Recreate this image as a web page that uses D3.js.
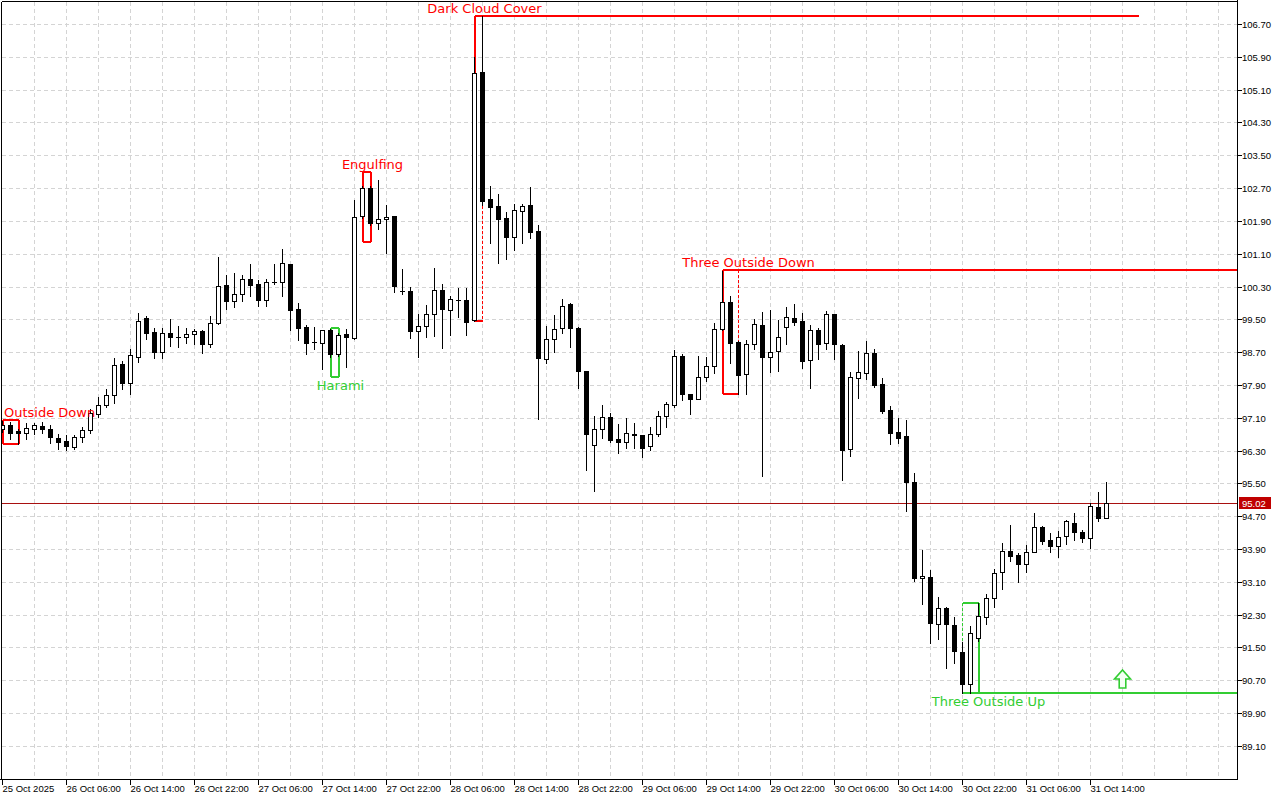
<!DOCTYPE html>
<html><head><meta charset="utf-8">
<script src="https://cdn.jsdelivr.net/npm/d3@7"></script>
<style>
html,body{margin:0;padding:0;background:#fff;}
svg{display:block;}
</style></head><body>
<svg id="chart" width="1280" height="800"></svg>
<script>
// ---------- DATA ----------
const opens = [96.83,96.92,96.78,96.73,96.83,96.90,96.83,96.61,96.53,96.39,96.63,96.80,97.19,97.41,97.66,98.41,97.95,98.58,99.53,99.19,
98.70,99.17,99.07,99.07,99.14,99.22,98.90,99.41,100.34,99.95,100.12,100.48,100.36,99.97,100.41,100.41,100.85,99.75,99.31,98.95,
98.92,99.24,98.65,99.14,99.04,102.02,102.70,101.85,101.95,102.02,100.19,100.19,99.22,99.34,99.63,100.21,99.73,99.97,99.97,99.48,
105.53,102.43,102.26,101.97,101.51,102.14,102.29,101.65,98.53,99.02,99.29,99.87,99.29,98.24,96.44,96.83,97.12,96.58,96.51,96.70,
96.68,96.41,96.70,97.14,97.41,98.61,97.68,97.56,98.09,98.36,99.26,99.92,98.95,98.17,98.90,99.36,98.58,98.73,99.31,99.53,
99.46,98.51,99.24,98.92,99.63,98.87,96.34,98.07,98.19,98.68,97.92,97.29,96.75,96.66,95.53,93.19,93.22,92.07,92.46,92.05,
91.39,90.61,91.73,92.24,92.71,93.34,93.85,93.75,93.53,93.83,94.44,94.12,93.97,94.22,94.53,94.32,94.17,94.92,94.66];
const highs = [97.02,97.00,96.83,96.97,96.97,96.99,96.92,96.70,96.68,96.68,96.88,97.31,97.61,97.80,98.56,98.48,98.78,99.65,99.58,99.29,
99.29,99.51,99.34,99.29,99.26,99.23,99.58,101.02,100.58,100.63,100.58,100.85,100.46,100.48,100.85,101.22,100.86,99.90,99.36,99.31,
99.25,99.26,99.17,99.26,102.41,102.75,102.75,102.90,102.29,102.03,100.73,100.29,99.63,99.85,100.75,100.36,100.07,100.26,100.26,105.89,
106.90,102.75,102.55,102.12,102.31,102.31,102.73,101.80,99.34,99.61,99.99,99.90,99.31,98.25,97.14,97.41,97.22,96.95,97.10,96.97,
96.69,96.87,97.27,97.48,98.75,98.65,97.69,98.61,98.58,99.41,100.68,100.07,98.96,98.99,99.51,99.68,99.73,99.48,99.80,99.87,
99.65,99.36,99.29,99.70,99.64,98.90,98.22,98.73,98.97,98.78,98.07,97.39,97.10,97.05,95.75,93.88,93.39,92.73,92.49,92.24,
91.63,92.02,92.58,92.80,93.41,94.05,94.49,93.80,94.00,94.78,94.45,94.29,94.34,94.61,94.78,94.36,95.02,95.29,95.53];
const lows = [96.75,96.58,96.46,96.58,96.70,96.73,96.48,96.34,96.31,96.34,96.51,96.73,97.12,97.36,97.46,97.80,97.68,98.46,99.02,98.56,
98.56,98.85,98.83,98.92,98.90,98.68,98.83,99.39,99.75,99.80,99.95,100.07,99.82,99.82,100.36,100.07,99.24,98.99,98.65,98.78,
98.29,98.58,98.61,98.34,99.03,101.97,101.80,101.70,101.12,100.17,100.12,99.04,98.58,99.07,99.09,98.80,99.12,99.56,99.12,99.46,
102.29,101.36,100.87,100.97,101.19,101.36,101.48,97.07,98.43,98.70,99.17,98.83,97.83,95.83,95.32,96.61,96.51,96.24,96.36,96.36,
96.14,96.31,96.66,96.87,97.36,97.53,97.19,97.55,97.99,98.19,99.24,98.43,97.68,97.68,98.78,95.68,98.22,98.24,98.90,99.36,
98.31,97.83,98.53,98.78,98.53,95.58,96.17,97.58,98.04,97.85,97.22,96.46,96.49,94.83,93.12,92.56,91.61,91.71,91.00,91.12,
90.39,90.39,91.66,92.07,92.49,92.92,93.61,93.09,93.34,93.82,94.02,93.83,93.71,94.02,94.12,94.07,93.92,94.58,94.65];
const closes = [96.92,96.73,96.73,96.85,96.92,96.83,96.63,96.51,96.41,96.63,96.80,97.22,97.41,97.66,98.39,97.95,98.63,99.46,99.17,98.70,
99.17,99.07,99.06,99.14,99.22,98.90,99.41,100.31,99.95,100.12,100.48,100.34,99.97,100.41,100.40,100.87,99.73,99.29,98.92,98.94,
99.24,98.65,99.12,99.07,101.99,102.70,101.85,101.95,101.99,100.31,100.18,99.22,99.34,99.63,100.21,99.75,99.99,99.96,99.43,105.50,
102.38,102.24,101.95,101.51,102.17,102.26,101.63,98.56,99.02,99.26,99.82,99.29,98.24,96.70,96.83,97.12,96.56,96.51,96.73,96.69,
96.36,96.70,97.14,97.44,98.61,97.68,97.56,98.09,98.36,99.26,99.92,98.92,98.14,98.90,99.39,98.58,98.70,99.07,99.56,99.43,
98.48,99.24,98.90,99.63,98.90,96.31,98.09,98.22,98.68,97.90,97.27,96.73,96.61,95.53,93.19,93.24,92.10,92.46,92.07,91.41,
90.61,91.85,92.27,92.71,93.32,93.85,93.73,93.53,93.83,94.44,94.09,93.97,94.19,94.58,94.32,94.17,94.95,94.66,95.02];

const timeLabels = ["25 Oct 2025","26 Oct 06:00","26 Oct 14:00","26 Oct 22:00","27 Oct 06:00","27 Oct 14:00","27 Oct 22:00",
"28 Oct 06:00","28 Oct 14:00","28 Oct 22:00","29 Oct 06:00","29 Oct 14:00","29 Oct 22:00","30 Oct 06:00","30 Oct 14:00",
"30 Oct 22:00","31 Oct 06:00","31 Oct 14:00"];
const timeLabelIdx = [0,8,16,24,32,40,48,56,64,72,80,88,96,104,112,120,128,136];
const priceTicks = [106.70,105.90,105.10,104.30,103.50,102.70,101.90,101.10,100.30,99.50,98.70,97.90,97.10,96.30,95.50,94.70,93.90,93.10,92.30,91.50,90.70,89.90,89.10];
const lastPrice = 95.02;

const patternNames = ["Outside Down","Harami","Engulfing","Dark Cloud Cover","Three Outside Down","Three Outside Up"];
const patternStart = [0,41,45,59,90,120];
const patternEnd   = [2,42,46,60,92,122];
const patternHigh  = [97.05,99.29,103.09,106.90,100.70,92.58];
const patternLow   = [96.46,98.09,101.39,99.46,97.68,90.39];
const patternBull  = [false,true,false,false,false,true];
const patternLevel = ["","","","high","high","low"];
const arrowIdx = 140;

// ---------- CHART ----------
const RED = "#ff0000", GREEN = "#32cd32";
const plotL = 1.5, plotT = 1.5, plotR = 1237.5, plotB = 779.5;
const svg = d3.select("#chart");
const x = d3.scaleLinear().domain([0, 154]).range([2.5, 2.5 + 8 * 154]);
const y = d3.scaleLinear().domain([88.293, 107.285]).range([779, 0]);
const py = v => Math.round(y(v));

svg.append("rect").attr("width", 1280).attr("height", 800).attr("fill", "#fff");

svg.append("defs").append("clipPath").attr("id", "plotclip")
  .append("rect").attr("x", 2).attr("y", 2).attr("width", plotR - 2).attr("height", plotB - 2);

// grid
const grid = svg.append("g").attr("stroke", "#d4d4d4").attr("stroke-dasharray", "4,3").attr("shape-rendering", "crispEdges");
priceTicks.forEach(t => {
  grid.append("line").attr("x1", plotL).attr("x2", plotR).attr("y1", py(t) + 0.5).attr("y2", py(t) + 0.5);
});
d3.range(4, 155, 4).forEach(i => {
  if (x(i) < plotR) grid.append("line").attr("x1", x(i)).attr("x2", x(i)).attr("y1", plotT).attr("y2", plotB);
});

const plot = svg.append("g").attr("clip-path", "url(#plotclip)");

// pattern boxes (behind candles)
const pg = plot.append("g").attr("fill", "none").attr("stroke-width", 2).attr("shape-rendering", "crispEdges");
patternNames.forEach((name, k) => {
  const col = patternBull[k] ? GREEN : RED;
  const x0 = x(patternStart[k]), x1 = x(patternEnd[k]);
  const yT = py(patternHigh[k]), yB = py(patternLow[k]);
  const ext = Math.min(x(patternEnd[k] + 82), plotR);
  const topEnd = patternLevel[k] === "high" ? ext : x1;
  const botEnd = patternLevel[k] === "low" ? ext : x1;
  pg.append("line").attr("x1", x0).attr("x2", topEnd).attr("y1", yT).attr("y2", yT).attr("stroke", col);
  pg.append("line").attr("x1", x0).attr("x2", botEnd).attr("y1", yB).attr("y2", yB).attr("stroke", col);
  const dashL = patternLevel[k] !== "" && patternBull[k];
  const dashR = patternLevel[k] !== "" && !patternBull[k];
  pg.append("line").attr("x1", x0).attr("x2", x0).attr("y1", yT).attr("y2", yB).attr("stroke", col)
    .attr("stroke-width", dashL ? 1.5 : 2).attr("stroke-dasharray", dashL ? "3,2" : null);
  pg.append("line").attr("x1", x1).attr("x2", x1).attr("y1", yT).attr("y2", yB).attr("stroke", col)
    .attr("stroke-width", dashR ? 1.5 : 2).attr("stroke-dasharray", dashR ? "3,2" : null);
});

// current price line
plot.append("line").attr("x1", plotL).attr("x2", plotR)
  .attr("y1", py(lastPrice) + 0.5).attr("y2", py(lastPrice) + 0.5)
  .attr("stroke", "#a81010").attr("stroke-width", 1).attr("shape-rendering", "crispEdges");

// candles
const cg = plot.append("g").attr("shape-rendering", "crispEdges");
opens.forEach((o, i) => {
  const c = closes[i], h = highs[i], l = lows[i];
  const xc = x(i);
  const bull = c >= o;
  cg.append("line").attr("x1", xc).attr("x2", xc).attr("y1", py(h)).attr("y2", py(l) + 1)
    .attr("stroke", "#000").attr("stroke-width", 1);
  const yt = py(Math.max(o, c)), yb = py(Math.min(o, c));
  if (yb - yt < 1) {
    cg.append("line").attr("x1", xc - 2.5).attr("x2", xc + 2.5).attr("y1", yt + 0.5).attr("y2", yt + 0.5)
      .attr("stroke", "#000").attr("stroke-width", 1);
  } else {
    cg.append("rect").attr("x", xc - 2).attr("width", 4).attr("y", yt + 0.5).attr("height", yb - yt)
      .attr("fill", bull ? "#fff" : "#000").attr("stroke", "#000").attr("stroke-width", 1);
  }
});

// arrow
{
  const ax = x(arrowIdx), ab = py(patternLow[5]) - 5;
  const p = d3.path();
  p.moveTo(ax - 3.3, ab); p.lineTo(ax - 3.3, ab - 9); p.lineTo(ax - 8, ab - 9); p.lineTo(ax, ab - 18);
  p.lineTo(ax + 8, ab - 9); p.lineTo(ax + 3.3, ab - 9); p.lineTo(ax + 3.3, ab); p.closePath();
  plot.append("path").attr("d", p.toString()).attr("fill", "#f4fff4").attr("stroke", GREEN).attr("stroke-width", 1.6);
}

// pattern labels
patternNames.forEach((name, k) => {
  const col = patternBull[k] ? GREEN : RED;
  const span = patternEnd[k] - patternStart[k];
  let cx = x(patternEnd[k]) + (span >= 2 ? 10 : 2);
  const t = svg.append("text").text(name).attr("font-family", "'DejaVu Sans', sans-serif").attr("font-size", 13)
    .attr("fill", col).attr("text-anchor", "middle")
    .attr("y", patternBull[k] ? py(patternLow[k]) + 13 : py(patternHigh[k]) - 3);
  t.attr("x", cx);
  const w = t.node().getComputedTextLength();
  if (cx - w / 2 < 4) t.attr("x", 4 + w / 2);
});

// frame and axes
const ax = svg.append("g").attr("stroke", "#000").attr("shape-rendering", "crispEdges");
ax.append("line").attr("x1", plotL).attr("x2", plotL).attr("y1", plotT).attr("y2", plotB);
ax.append("line").attr("x1", plotL).attr("x2", plotR).attr("y1", plotT).attr("y2", plotT);
ax.append("line").attr("x1", plotR).attr("x2", plotR).attr("y1", 0).attr("y2", plotB);
ax.append("line").attr("x1", 0).attr("x2", plotR).attr("y1", plotB).attr("y2", plotB);

const FONT = "'Liberation Sans', Arial, sans-serif";
priceTicks.forEach(t => {
  const yy = py(t) + 0.5;
  ax.append("line").attr("x1", plotR).attr("x2", plotR + 4).attr("y1", yy).attr("y2", yy);
  svg.append("text").text(t.toFixed(2)).attr("x", 1242).attr("y", yy + 3.5)
    .attr("font-family", FONT).attr("font-size", 9.5).attr("fill", "#000");
});
timeLabelIdx.forEach((idx, k) => {
  const xx = x(idx);
  ax.append("line").attr("x1", xx).attr("x2", xx).attr("y1", plotB).attr("y2", plotB + 5);
  svg.append("text").text(timeLabels[k]).attr("x", xx).attr("y", 792)
    .attr("font-family", FONT).attr("font-size", 9.5).attr("fill", "#000");
});

// last price tag
{
  const yy = py(lastPrice);
  svg.append("rect").attr("x", 1239).attr("y", yy - 6).attr("width", 32).attr("height", 12).attr("fill", "#c00000");
  svg.append("text").text(lastPrice.toFixed(2)).attr("x", 1242).attr("y", yy + 4)
    .attr("font-family", FONT).attr("font-size", 9.5).attr("fill", "#fff");
}
</script>
</body></html>
